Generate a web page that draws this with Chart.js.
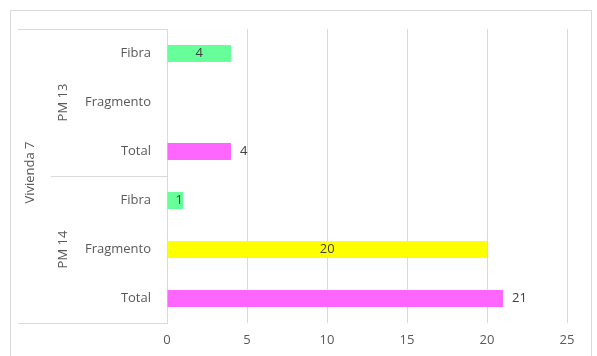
<!DOCTYPE html>
<html>
<head>
<meta charset="utf-8">
<script src="https://cdn.jsdelivr.net/npm/chart.js@4.4.0/dist/chart.umd.min.js"></script>
<style>
  html, body { margin: 0; padding: 0; background: #ffffff; }
  #wrap { width: 597px; height: 356px; position: relative; }
</style>
</head>
<body>
<div id="wrap"><canvas id="c" width="597" height="356"></canvas></div>
<script>
// ---- data ----
const categories = ['Fibra', 'Fragmento', 'Total', 'Fibra', 'Fragmento', 'Total'];
const subGroups = ['PM 13', 'PM 14'];          // each spans 3 categories
const subGroupSize = 3;
const topGroup = 'Vivienda 7';
const fibraValues = [4, null, null, 1, null, null];
const fragmentoValues = [null, null, null, null, 20, null];
const totalValues = [null, null, 4, null, null, 21];
const xTickValues = [0, 5, 10, 15, 20, 25];

const FONT = "'Open Sans', 'Liberation Sans', sans-serif";
const FS = 13;
const TEXT = '#595959';
const GRID = '#d9d9d9';

const labelPlugin = {
  id: 'excelExtras',
  afterDraw(chart) {
    const ctx = chart.ctx;
    const y = chart.scales.y;
    const area = chart.chartArea;
    ctx.save();
    // outer border
    ctx.strokeStyle = GRID;
    ctx.lineWidth = 1;
    ctx.strokeRect(10.5, 10.5, 581, 360);

    // category box lines
    const half = (y.getPixelForValue(1) - y.getPixelForValue(0)) / 2;
    const topY = Math.round(y.getPixelForValue(0) - half) + 0.5;
    const botY = Math.round(y.getPixelForValue(categories.length - 1) + half) + 0.5;
    const left = area.left;
    ctx.beginPath();
    ctx.moveTo(18, topY); ctx.lineTo(left, topY);
    ctx.moveTo(18, botY); ctx.lineTo(left, botY);
    for (let g = 1; g < subGroups.length; g++) {
      const sy = Math.round(y.getPixelForValue(g * subGroupSize) - half) + 0.5;
      ctx.moveTo(51, sy); ctx.lineTo(left, sy);
    }
    ctx.stroke();

    // group labels (rotated)
    ctx.fillStyle = TEXT;
    ctx.font = FS + 'px ' + FONT;
    ctx.textAlign = 'center';
    ctx.textBaseline = 'middle';
    subGroups.forEach((g, i) => {
      const a = y.getPixelForValue(i * subGroupSize);
      const b = y.getPixelForValue(i * subGroupSize + subGroupSize - 1);
      ctx.save();
      ctx.translate(63, (a + b) / 2);
      ctx.rotate(-Math.PI / 2);
      ctx.fillText(g, 0, 0);
      ctx.restore();
    });
    ctx.save();
    ctx.translate(30, (topY + botY) / 2 - 4);
    ctx.rotate(-Math.PI / 2);
    ctx.fillText(topGroup, 0, 0);
    ctx.restore();

    // data labels
    ctx.fillStyle = '#404040';
    chart.data.datasets.forEach((ds, di) => {
      const meta = chart.getDatasetMeta(di);
      meta.data.forEach((bar, i) => {
        const v = ds.data[i];
        if (v === null || v === undefined) return;
        if (ds.labelPos === 'end') {
          ctx.textAlign = 'left';
          ctx.fillText(String(v), bar.x + 9, bar.y);
        } else {
          ctx.textAlign = 'center';
          ctx.fillText(String(v), (bar.x + bar.base) / 2 + (v < 2 ? 4 : 0), bar.y);
        }
      });
    });
    ctx.restore();
  }
};

new Chart(document.getElementById('c'), {
  type: 'bar',
  data: {
    labels: categories,
    datasets: [
      { label: 'Fibra', data: fibraValues, backgroundColor: '#66ff99', labelPos: 'center' },
      { label: 'Fragmento', data: fragmentoValues, backgroundColor: '#ffff00', labelPos: 'center' },
      { label: 'Total', data: totalValues, backgroundColor: '#ff66ff', labelPos: 'end' }
    ]
  },
  options: {
    indexAxis: 'y',
    responsive: false,
    animation: false,
    grouped: false,
    categoryPercentage: 1,
    barPercentage: 0.35,
    layout: { padding: { top: 29, right: 30, left: 0, bottom: 0 } },
    plugins: { legend: { display: false }, tooltip: { enabled: false } },
    scales: {
      x: {
        min: 0, max: 25,
        afterBuildTicks(scale) { scale.ticks = xTickValues.map(v => ({ value: v })); },
        afterFit(scale) { scale.height = 33; },
        grid: { color: GRID, drawTicks: false },
        border: { display: false },
        ticks: { color: TEXT, font: { family: FONT, size: FS }, padding: 9 }
      },
      y: {
        afterFit(scale) { scale.width = 167; },
        grid: { display: false, drawTicks: false },
        border: { display: true, color: GRID },
        ticks: { color: TEXT, font: { family: FONT, size: FS }, padding: 16 }
      }
    }
  },
  plugins: [labelPlugin]
});
</script>
</body>
</html>
